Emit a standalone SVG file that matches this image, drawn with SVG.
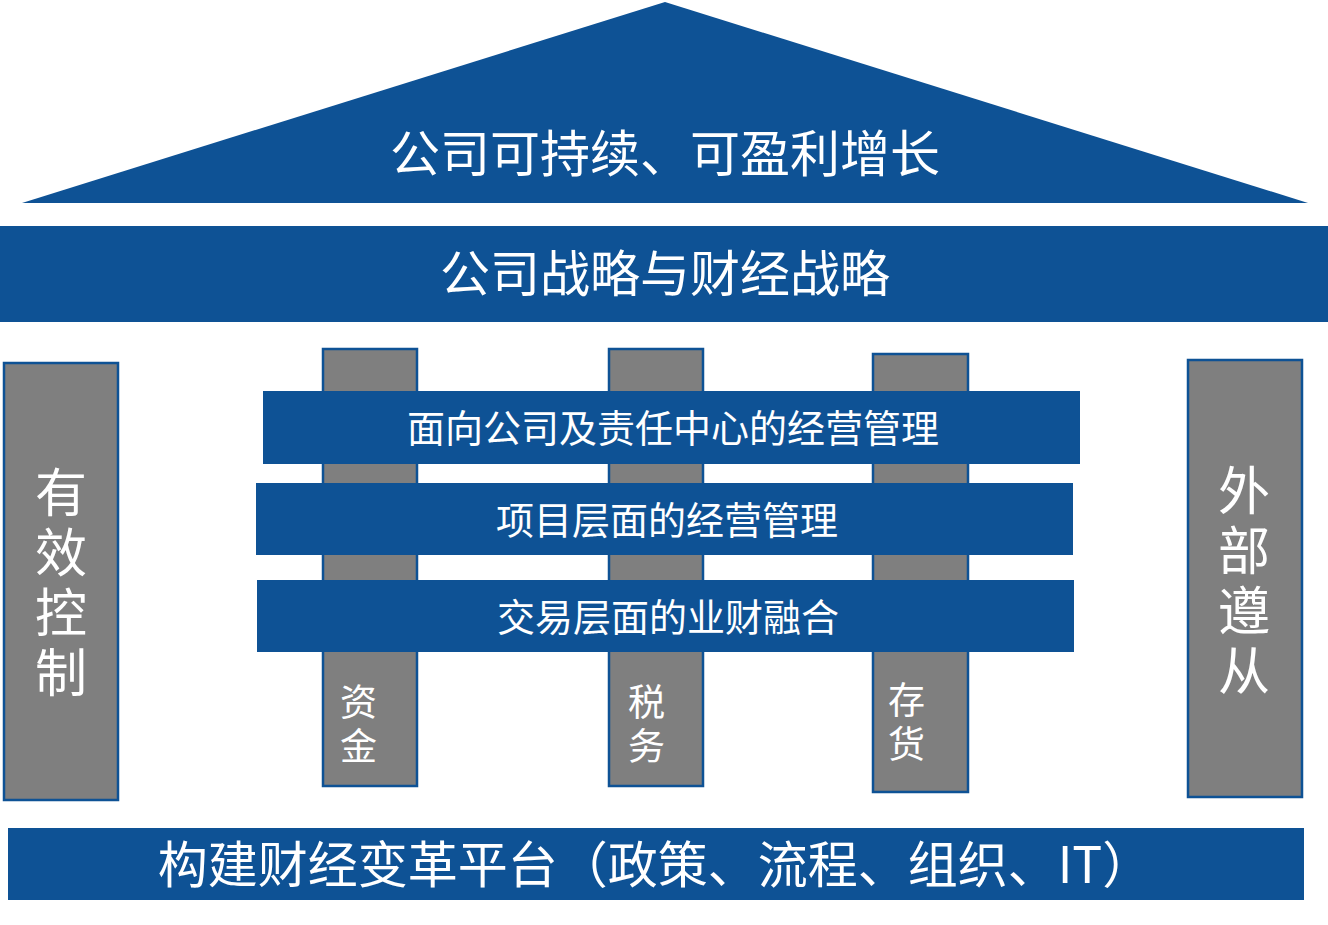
<svg xmlns="http://www.w3.org/2000/svg" width="1328" height="925" viewBox="0 0 1328 925">
<style>
.blue{fill:#0E5295}
.pil{fill:#7F7F7F;stroke:#0E5295;stroke-width:2.5}
text{fill:#fff;font-family:"Noto Sans CJK SC","Liberation Sans",sans-serif;text-anchor:middle}
.big{font-size:50px}
.mid{font-size:38px}
.pt{font-size:52px}
.st{font-size:37px;text-anchor:start}
</style>
<rect width="1328" height="925" fill="#fff"/>
<g id="roof"><polygon class="blue" points="22,203 665,2 1308,203"/><text class="big" x="665" y="172">公司可持续、可盈利增长</text></g>
<g id="strategy"><rect class="blue" x="0" y="226" width="1328" height="96"/><text class="big" x="665" y="292">公司战略与财经战略</text></g>
<g id="left"><rect class="pil" x="4" y="363" width="114" height="437"/>
<text class="pt"><tspan x="61" y="512">有</tspan><tspan x="61" y="572">效</tspan><tspan x="61" y="632">控</tspan><tspan x="61" y="692">制</tspan></text></g>
<g id="right"><rect class="pil" x="1188" y="360" width="114" height="437"/>
<text class="pt"><tspan x="1244" y="510">外</tspan><tspan x="1244" y="570">部</tspan><tspan x="1244" y="630">遵</tspan><tspan x="1244" y="690">从</tspan></text></g>
<g id="zijin"><rect class="pil" x="323" y="349" width="94" height="437"/><text class="st"><tspan x="340" y="716">资</tspan><tspan x="340" y="760">金</tspan></text></g>
<g id="shuiwu"><rect class="pil" x="609" y="349" width="94" height="437"/><text class="st"><tspan x="628" y="716">税</tspan><tspan x="628" y="760">务</tspan></text></g>
<g id="cunhuo"><rect class="pil" x="873" y="354" width="95" height="438"/><text class="st"><tspan x="888" y="714">存</tspan><tspan x="888" y="758">货</tspan></text></g>
<g id="bar1"><rect class="blue" x="263" y="391" width="817" height="73"/><text class="mid" x="673" y="442">面向公司及责任中心的经营管理</text></g>
<g id="bar2"><rect class="blue" x="256" y="483" width="817" height="72"/><text class="mid" x="667" y="534">项目层面的经营管理</text></g>
<g id="bar3"><rect class="blue" x="257" y="580" width="817" height="72"/><text class="mid" x="668" y="631">交易层面的业财融合</text></g>
<g id="base"><rect class="blue" x="8" y="828" width="1296" height="72"/><text class="big" x="655" y="883">构建财经变革平台（政策、流程、组织、IT）</text></g>
<g id="connectors"/>
</svg>
